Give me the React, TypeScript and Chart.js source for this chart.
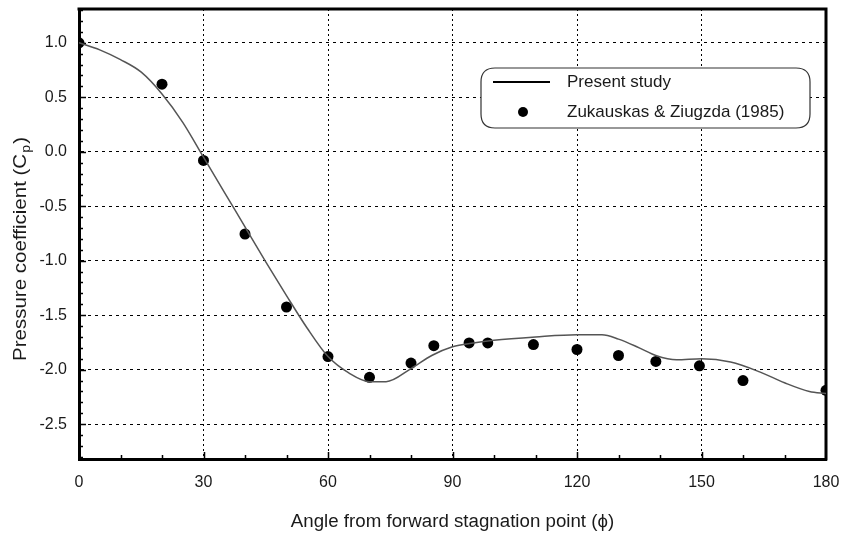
import React, { useEffect, useRef } from 'react';
import { Chart, registerables } from 'chart.js';

Chart.register(...registerables);

// ---- data ----
const studyAngles = [0, 5, 10, 15, 20, 25, 30, 35, 40, 45, 50, 55, 60, 65, 70, 74, 80, 85, 90, 95, 100, 110, 120, 126, 130, 135, 139, 144, 150, 157, 164, 170, 176, 180];
const studyCp = [1.0, 0.935, 0.845, 0.73, 0.53, 0.27, -0.05, -0.37, -0.69, -1.01, -1.32, -1.62, -1.88, -2.03, -2.11, -2.11, -1.99, -1.87, -1.79, -1.755, -1.73, -1.70, -1.68, -1.68, -1.72, -1.80, -1.87, -1.91, -1.90, -1.93, -2.02, -2.12, -2.20, -2.22];

const expAngles = [0, 20, 30, 40, 50, 60, 70, 80, 85.5, 94, 98.5, 109.5, 120, 130, 139, 149.5, 160, 180];
const expCp = [1.0, 0.62, -0.08, -0.755, -1.425, -1.88, -2.07, -1.94, -1.78, -1.755, -1.755, -1.77, -1.815, -1.87, -1.925, -1.965, -2.10, -2.19];

const xTickValues = [0, 30, 60, 90, 120, 150, 180];
const yTickValues = [-2.5, -2.0, -1.5, -1.0, -0.5, 0.0, 0.5, 1.0];

const seriesLabels = ['Present study', 'Zukauskas & Ziugzda (1985)'];
const xTitle = 'Angle from forward stagnation point (\u03D5)';
const yTitleMain = 'Pressure coefficient (C';
const yTitleSub = 'p';
const yTitleEnd = ')';

const FONT = "'Liberation Sans', Arial, sans-serif";

const decor = {
  id: 'decor',
  beforeDatasetsDraw(chart: any) {
    const { ctx, chartArea: a, scales } = chart;
    const xs = scales.x;
    const ys = scales.y;
    ctx.save();
    ctx.strokeStyle = '#000';
    ctx.lineWidth = 3;
    ctx.beginPath();
    ctx.moveTo(a.left - 1.5, a.top);
    ctx.lineTo(a.right, a.top);
    ctx.lineTo(a.right, a.bottom + 1.5);
    ctx.stroke();
    // inward tick marks
    ctx.lineWidth = 1.5;
    ctx.beginPath();
    for (let d = 10; d < 180; d += 10) {
      const px = Math.round(xs.getPixelForValue(d)) + 0.5;
      const len = d % 30 === 0 ? 7 : 4;
      ctx.moveTo(px, a.bottom);
      ctx.lineTo(px, a.bottom - len);
    }
    for (let i = -28; i <= 13; i++) {
      const v = i / 10;
      const py = Math.round(ys.getPixelForValue(v)) + 0.5;
      const len = i % 5 === 0 ? 7 : 4;
      ctx.moveTo(a.left, py);
      ctx.lineTo(a.left + len, py);
    }
    ctx.stroke();
    ctx.restore();
  },
  afterDraw(chart: any) {
    const { ctx, chartArea: a } = chart;
    ctx.save();
    ctx.fillStyle = '#1a1a1a';
    // x title
    ctx.save();
    ctx.font = `17px ${FONT}`;
    ctx.textAlign = 'center';
    ctx.textBaseline = 'middle';
    ctx.translate((a.left + a.right) / 2, 522);
    ctx.scale(1.1, 1.05);
    ctx.fillText(xTitle, 0, 0);
    ctx.restore();
    // y title with subscript
    ctx.save();
    ctx.translate(21, 249);
    ctx.rotate(-Math.PI / 2);
    ctx.scale(1.08, 1);
    ctx.textAlign = 'left';
    ctx.textBaseline = 'middle';
    const mainFont = `19px ${FONT}`;
    const subFont = `13px ${FONT}`;
    ctx.font = mainFont;
    const w1 = ctx.measureText(yTitleMain).width;
    const w3 = ctx.measureText(yTitleEnd).width;
    ctx.font = subFont;
    const w2 = ctx.measureText(yTitleSub).width;
    const total = w1 + w2 + w3 + 2;
    let sx = -total / 2;
    ctx.font = mainFont;
    ctx.fillText(yTitleMain, sx, 0);
    sx += w1 + 1;
    ctx.font = subFont;
    ctx.fillText(yTitleSub, sx, 5);
    sx += w2 + 1;
    ctx.font = mainFont;
    ctx.fillText(yTitleEnd, sx, 0);
    ctx.restore();

    // legend box
    const bx = 481, by = 68, bw = 329, bh = 60, r = 14;
    ctx.strokeStyle = '#333';
    ctx.lineWidth = 1.2;
    ctx.beginPath();
    ctx.moveTo(bx + r, by);
    ctx.lineTo(bx + bw - r, by);
    ctx.quadraticCurveTo(bx + bw, by, bx + bw, by + r);
    ctx.lineTo(bx + bw, by + bh - r);
    ctx.quadraticCurveTo(bx + bw, by + bh, bx + bw - r, by + bh);
    ctx.lineTo(bx + r, by + bh);
    ctx.quadraticCurveTo(bx, by + bh, bx, by + bh - r);
    ctx.lineTo(bx, by + r);
    ctx.quadraticCurveTo(bx, by, bx + r, by);
    ctx.closePath();
    ctx.fillStyle = '#fff';
    ctx.fill();
    ctx.stroke();
    // line sample
    ctx.strokeStyle = '#000';
    ctx.lineWidth = 2;
    ctx.beginPath();
    ctx.moveTo(493, 82);
    ctx.lineTo(550, 82);
    ctx.stroke();
    // point sample
    ctx.fillStyle = '#000';
    ctx.beginPath();
    ctx.arc(523, 112, 5, 0, Math.PI * 2);
    ctx.fill();
    ctx.fillStyle = '#1a1a1a';
    ctx.font = `17px ${FONT}`;
    ctx.textAlign = 'left';
    ctx.textBaseline = 'middle';
    ctx.fillText(seriesLabels[0], 567, 82);
    ctx.fillText(seriesLabels[1], 567, 112);
    ctx.restore();
  },
};

export default function App() {
  const ref = useRef<HTMLCanvasElement>(null);
  useEffect(() => {
    const chart = new Chart(ref.current as HTMLCanvasElement, {
      type: 'line',
      data: {
        datasets: [
          {
            type: 'line',
            label: seriesLabels[0],
            data: studyAngles.map((x, i) => ({ x, y: studyCp[i] })),
            borderColor: '#555',
            borderWidth: 1.5,
            pointRadius: 0,
            cubicInterpolationMode: 'monotone',
            fill: false,
          },
          {
            type: 'scatter',
            label: seriesLabels[1],
            data: expAngles.map((x, i) => ({ x, y: expCp[i] })),
            backgroundColor: '#000',
            borderWidth: 0,
            pointRadius: 5.5,
            showLine: false,
          },
        ],
      } as any,
      options: {
        responsive: false,
        animation: false,
        devicePixelRatio: 1,
        layout: { padding: { top: 9, right: 15, left: 0, bottom: 0 } },
        plugins: { legend: { display: false }, tooltip: { enabled: false } },
        scales: {
          x: {
            type: 'linear',
            min: 0,
            max: 180,
            afterBuildTicks: (s: any) => { s.ticks = xTickValues.map((v) => ({ value: v })); },
            afterFit: (s: any) => { s.height = 78; s.paddingLeft = 0; s.paddingRight = 0; },
            ticks: {
              autoSkip: false,
              maxRotation: 0,
              padding: 14,
              color: '#1a1a1a',
              font: { family: FONT, size: 16 },
              callback: (v: any) => String(v),
            },
            grid: {
              drawTicks: false,
              color: (c: any) => (c.tick && (c.tick.value === 0 || c.tick.value === 180) ? 'rgba(0,0,0,0)' : '#000'),
              lineWidth: 1,
            },
            border: { display: true, color: '#000', width: 3, dash: [2, 3] },
          },
          y: {
            type: 'linear',
            min: -2.82,
            max: 1.31,
            afterBuildTicks: (s: any) => { s.ticks = yTickValues.map((v) => ({ value: v })); },
            afterFit: (s: any) => { s.width = 79; s.paddingTop = 0; s.paddingBottom = 0; },
            ticks: {
              padding: 12,
              color: '#1a1a1a',
              font: { family: FONT, size: 16 },
              callback: (v: any) => Number(v).toFixed(1),
            },
            grid: { drawTicks: false, color: '#000', lineWidth: 1 },
            border: { display: true, color: '#000', width: 3, dash: [3, 4] },
          },
        },
      },
      plugins: [decor],
    } as any);
    return () => chart.destroy();
  }, []);
  return (
    <div style={{ position: 'absolute', left: 0, top: 0, width: 841, height: 537, background: '#fff' }}>
      <canvas ref={ref} width={841} height={537} style={{ display: 'block', width: 841, height: 537 }} />
    </div>
  );
}
